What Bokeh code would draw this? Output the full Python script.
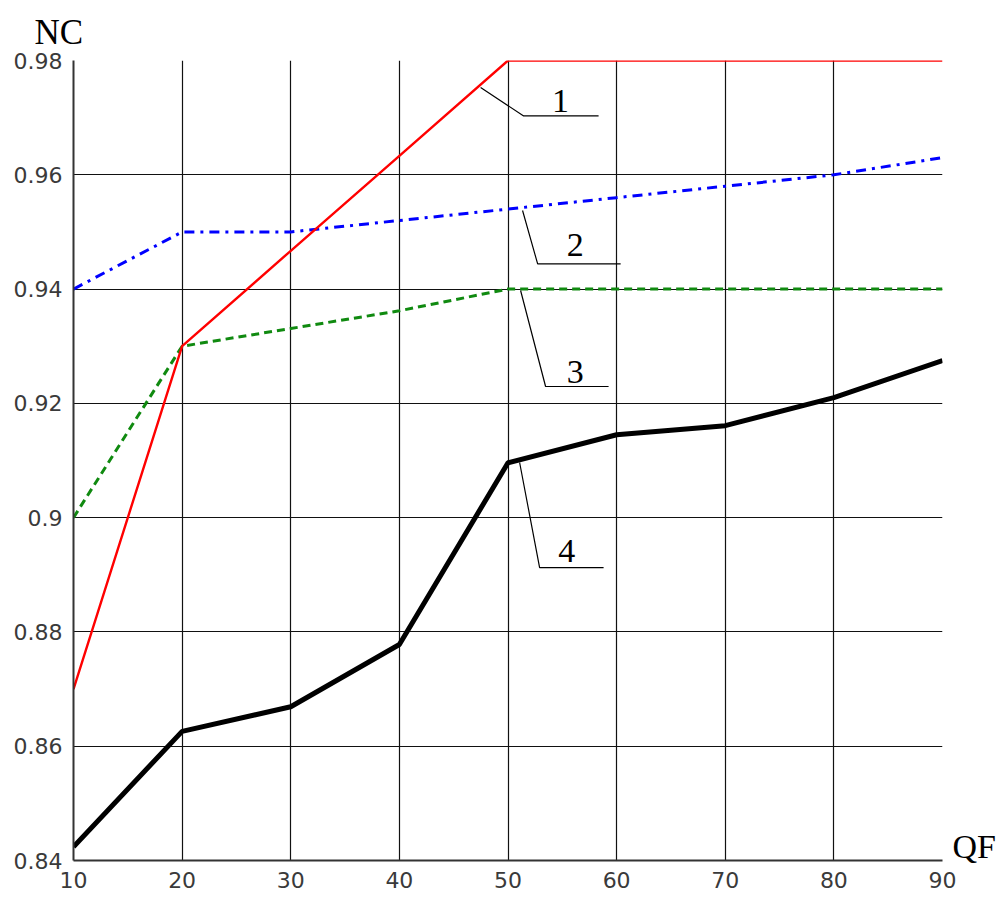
from bokeh.plotting import figure
from bokeh.models import Label, Range1d, FixedTicker, CustomJSTickFormatter, LinearAxis
from bokeh.embed import file_html
from bokeh.resources import INLINE

# ---- data ----
qf = [10, 20, 30, 40, 50, 60, 70, 80, 90]
nc1 = [0.870, 0.930, 0.9467, 0.9633, 0.980, 0.980, 0.980, 0.980, 0.980]
nc2 = [0.940, 0.950, 0.950, 0.952, 0.954, 0.956, 0.958, 0.960, 0.963]
nc3 = [0.900, 0.930, 0.9331, 0.9362, 0.940, 0.940, 0.940, 0.940, 0.940]
nc4 = [0.8424, 0.8626, 0.8669, 0.8778, 0.9096, 0.9145, 0.9161, 0.9210, 0.9275]

x_ticks = [10, 20, 30, 40, 50, 60, 70, 80, 90]
y_ticks = [0.84, 0.86, 0.88, 0.90, 0.92, 0.94, 0.96, 0.98]

x_title = "QF"
y_title = "NC"
x_title_at = [0.8425]

# leader lines for curve labels (x list, y list), label text and anchor
leader_names = ["1", "2", "3", "4"]
leader_x = [[47.48, 51.44, 58.34], [51.34, 52.73, 60.37],
            [51.16, 53.46, 59.26], [51.07, 52.91, 58.80]]
leader_y = [[0.97527, 0.9703, 0.9703], [0.95375, 0.9444, 0.9444],
            [0.93975, 0.92295, 0.92295], [0.90965, 0.89127, 0.89127]]
label_x = [54.84, 56.2, 56.2, 55.4]
label_y = [0.9730, 0.9478, 0.92557, 0.89425]

p = figure(width=1000, height=897,
           x_range=Range1d(10, 90), y_range=Range1d(0.84, 0.98),
           output_backend="svg", toolbar_location=None,
           min_border_left=73, min_border_right=58,
           min_border_top=60, min_border_bottom=37)
p.background_fill_color = "white"
p.border_fill_color = "white"
p.outline_line_color = None

p.title.text = y_title
p.title.text_font = "Liberation Serif"
p.title.text_font_size = "35px"
p.title.text_font_style = "normal"
p.title.text_color = "black"
p.title.align = "left"
p.title.offset = -39
p.title.standoff = 17

for ax in (p.xaxis[0], p.yaxis[0]):
    ax.major_tick_line_color = None
    ax.minor_tick_line_color = None
    ax.major_tick_out = 0
    ax.major_tick_in = 0
    ax.axis_line_color = "#333333"
    ax.axis_line_width = 2
    ax.major_label_text_font = "DejaVu Sans"
    ax.major_label_text_font_size = "22px"
    ax.major_label_text_color = "#3a3a3a"

p.xaxis.ticker = FixedTicker(ticks=x_ticks)
p.yaxis.ticker = FixedTicker(ticks=y_ticks)
p.yaxis.formatter = CustomJSTickFormatter(code="return Number(tick.toFixed(2)).toString();")
p.xaxis.major_label_standoff = 11
p.yaxis.major_label_standoff = 11

# axis carrying the "QF" caption at the lower right
qf_axis = LinearAxis(ticker=FixedTicker(ticks=x_title_at),
                     formatter=CustomJSTickFormatter(code="return '%s';" % x_title),
                     axis_line_color=None, major_tick_line_color=None,
                     minor_tick_line_color=None, major_tick_out=0, major_tick_in=0,
                     major_label_standoff=10,
                     major_label_text_font="Liberation Serif",
                     major_label_text_font_size="34px",
                     major_label_text_color="black")
p.add_layout(qf_axis, "right")

p.xgrid.ticker = FixedTicker(ticks=x_ticks)
p.ygrid.ticker = FixedTicker(ticks=y_ticks)
for g in (p.xgrid[0], p.ygrid[0]):
    g.grid_line_color = "#111111"
    g.grid_line_width = 1.2
    g.grid_line_alpha = 1.0

p.line(qf, nc4, line_color="black", line_width=5)
p.line(qf, nc3, line_color="#108a10", line_width=3, line_dash="8 5")
p.line(qf, nc2, line_color="#0000ff", line_width=3, line_dash="10 6 3 6")
p.line(qf, nc1, line_color="#ff0000", line_width=2.4)

for name, lx, ly, tx, ty in zip(leader_names, leader_x, leader_y, label_x, label_y):
    p.line(lx, ly, line_color="black", line_width=1.2)
    p.add_layout(Label(x=tx, y=ty, text=name, text_font="Liberation Serif",
                       text_font_size="34px", text_align="center",
                       text_baseline="middle", text_color="black"))

open("out.html", "w").write(file_html(p, INLINE))
